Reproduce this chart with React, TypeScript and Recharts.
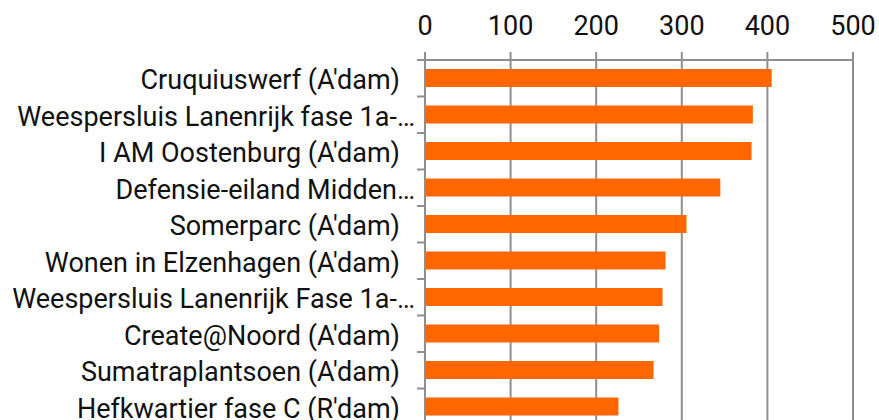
import React from 'react';
import { BarChart, Bar, XAxis, YAxis, CartesianGrid } from 'recharts';

const categories = [
  "Cruquiuswerf (A'dam)",
  'Weespersluis Lanenrijk fase 1a-…',
  "I AM Oostenburg (A'dam)",
  'Defensie-eiland Midden…',
  "Somerparc (A'dam)",
  "Wonen in Elzenhagen (A'dam)",
  'Weespersluis Lanenrijk Fase 1a-…',
  "Create@Noord (A'dam)",
  "Sumatraplantsoen (A'dam)",
  "Hefkwartier fase C (R'dam)",
];
const values = [405, 383, 381.5, 345, 305.5, 281, 277.5, 273.5, 267, 226];
const xTicks = [0, 100, 200, 300, 400, 500];

const data = categories.map((name, i) => ({ name, value: values[i] }));

const W = 879;
const H = 430;
const MARGIN = { top: 10, right: 26, bottom: 5, left: 0 };
const YAXIS_W = 425;
const XAXIS_H = 50;
const GRID = '#8f8f8f';
const FONT = 'Roboto, sans-serif';
const FS = 27;

const plotTop = MARGIN.top + XAXIS_H;
const plotH = H - plotTop - MARGIN.bottom;
const band = plotH / categories.length;

function CatTick(props: any) {
  const { y, payload, index } = props;
  const axisX = MARGIN.left + YAXIS_W;
  const label = String(payload.value);
  const truncated = label.endsWith('…');
  const tx = truncated ? axisX - 10 : axisX - 25;
  const half = band / 2;
  return (
    <g>
      {index === 0 && (
        <line x1={axisX - 8} x2={axisX} y1={y - half} y2={y - half} stroke={GRID} strokeWidth={2} />
      )}
      <line x1={axisX - 8} x2={axisX} y1={y + half} y2={y + half} stroke={GRID} strokeWidth={2} />
      <text x={tx} y={y + 0.4 * FS} textAnchor="end" fill="#111" fontFamily={FONT} fontSize={FS}>
        {label}
      </text>
    </g>
  );
}

export default function App() {
  return (
    <div style={{ position: 'fixed', left: 0, top: 0, width: W, height: 420, overflow: 'hidden', background: '#fff' }}>
      <BarChart width={W} height={H} data={data} layout="vertical" margin={MARGIN}>
        <CartesianGrid horizontal={false} vertical stroke={GRID} strokeWidth={2} />
        <XAxis
          type="number"
          orientation="top"
          domain={[0, 500]}
          ticks={xTicks}
          interval={0}
          height={XAXIS_H}
          tickSize={8}
          tickMargin={17}
          axisLine={{ stroke: GRID, strokeWidth: 2 }}
          tickLine={{ stroke: GRID, strokeWidth: 2 }}
          tick={{ fill: '#111', fontSize: FS, fontFamily: FONT }}
          allowDataOverflow
        />
        <YAxis
          type="category"
          dataKey="name"
          width={YAXIS_W}
          interval={0}
          tickLine={false}
          axisLine={{ stroke: GRID, strokeWidth: 2 }}
          tick={<CatTick />}
        />
        <Bar dataKey="value" fill="#ff6600" barSize={18} isAnimationActive={false} />
      </BarChart>
    </div>
  );
}
